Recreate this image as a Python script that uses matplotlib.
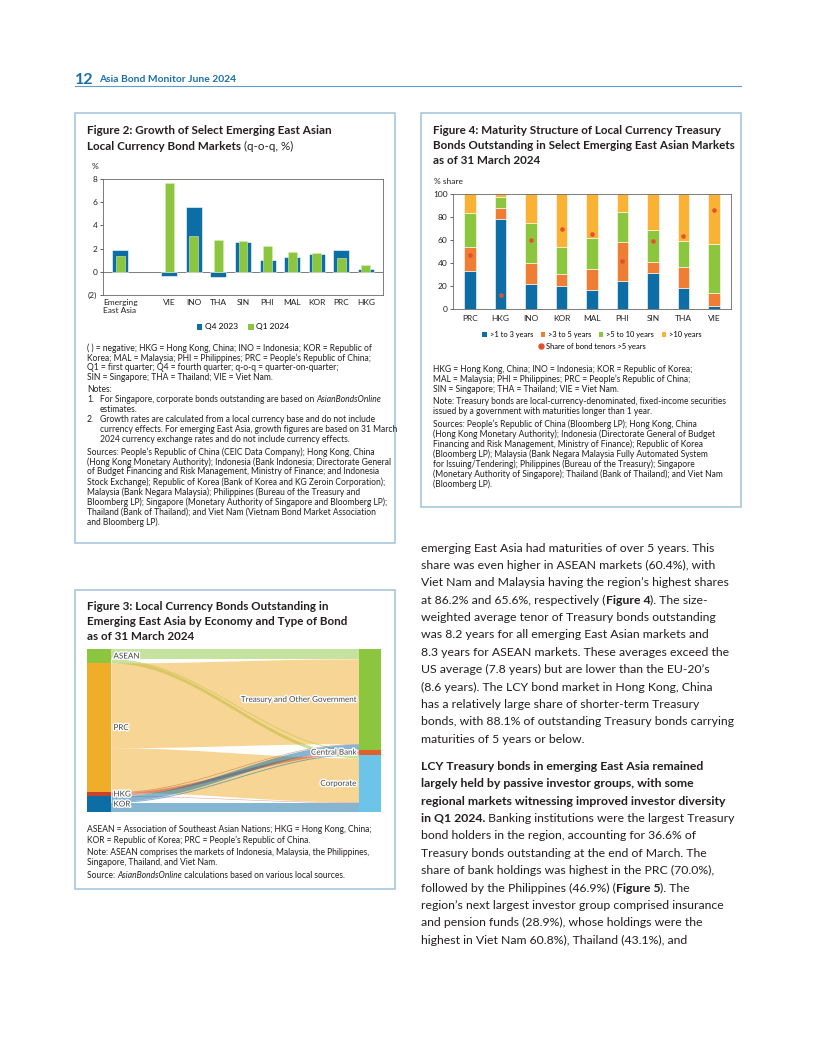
import numpy as np
import matplotlib
matplotlib.use("Agg")
import matplotlib.pyplot as plt
import matplotlib.patheffects as pe
from matplotlib.patches import Patch, Rectangle
from matplotlib.lines import Line2D

plt.rcParams["font.family"] = ["Lato", "DejaVu Sans"]

# Figure 2 data (q-o-q growth, %)
fig2_labels = ["Emerging\nEast Asia", "VIE", "INO", "THA", "SIN", "PHI", "MAL", "KOR", "PRC", "HKG"]
fig2_q4_2023 = [1.85, -0.33, 5.6, -0.42, 2.6, 1.04, 1.24, 1.55, 1.85, 0.23]
fig2_q1_2024 = [1.4, 7.65, 3.05, 2.76, 2.67, 2.22, 1.67, 1.6, 1.18, 0.58]

# Figure 4 data (% share)
fig4_labels = ["PRC", "HKG", "INO", "KOR", "MAL", "PHI", "SIN", "THA", "VIE"]
fig4_1to3 = [33.2, 78.5, 21.7, 20.3, 16.5, 24.6, 31.6, 18.6, 2.9]
fig4_3to5 = [20.3, 9.6, 18.5, 10.5, 17.9, 33.6, 9.6, 18.1, 10.9]
fig4_5to10 = [30.3, 9.0, 34.2, 23.2, 27.5, 26.4, 27.5, 22.7, 42.7]
fig4_over10 = [16.2, 2.9, 25.6, 46.0, 38.1, 15.4, 31.3, 40.6, 43.5]
fig4_share_over5 = [46.7, 11.9, 59.8, 69.2, 65.6, 41.8, 58.8, 63.3, 86.2]

# Figure 3 data (% of total LCY bonds outstanding)
fig3_sources = ["ASEAN", "PRC", "HKG", "KOR"]
fig3_targets = ["Treasury and Other Government", "Central Bank", "Corporate"]
fig3_to_treasury = [6.0, 52.0, 0.4, 3.4]
fig3_to_central_bank = [0.6, 0.0, 1.8, 0.6]
fig3_to_corporate = [2.0, 27.1, 0.3, 5.8]

INK = "#231f20"
BLUE = "#0d6ea5"
GREEN = "#8cc63f"
ORANGE = "#ef7d33"
YELLOW = "#f9b233"
DOT = "#e2522b"
BORDER = "#a8c6dc"
HEAD = "#1b6fa8"
FRAME = "#666666"

W, H = 816, 1056
fig = plt.figure(figsize=(8.16, 10.56), dpi=100)
page = fig.add_axes([0, 0, 1, 1])
page.set_xlim(0, W)
page.set_ylim(H, 0)
page.axis("off")
renderer = fig.canvas.get_renderer()


def box_axes(x0, y0, x1, y1):
    return fig.add_axes([x0 / W, 1 - y1 / H, (x1 - x0) / W, (y1 - y0) / H])


def fit_size(text, width, weight="normal"):
    t = page.text(0, 0, text, fontsize=10, fontweight=weight)
    w = t.get_window_extent(renderer).width
    t.remove()
    return 10 * width / w


def rich(x, y, parts, size, color=INK):
    prev = None
    for s, weight, style in parts:
        kw = dict(fontsize=size, fontweight=weight, fontstyle=style,
                  color=color, va="center_baseline", ha="left")
        if prev is None:
            prev = page.text(x, y, s, **kw)
        else:
            prev = page.annotate(s, xy=(1, y), xycoords=(prev, page.transData), **kw)
    return prev


def plain(s):
    return [(s, "normal", "normal")]


def block(x, y, paragraphs, size, step, gap, indent=13):
    # an entry is a list of parts, or (label, parts) for a hanging-indent line
    for para in paragraphs:
        for entry in para:
            if isinstance(entry, tuple):
                label, parts = entry
                if label:
                    rich(x, y, plain(label), size)
                rich(x + indent, y, parts, size)
            else:
                rich(x, y, entry, size)
            y += step
        y += gap


def frame(x0, y0, x1, y1):
    page.add_patch(Rectangle((x0, y0), x1 - x0, y1 - y0, fill=False,
                             edgecolor=BORDER, linewidth=1.2))


TITLE = fit_size("Figure 2: Growth of Select Emerging East Asian", 243, "bold")
NOTE = fit_size("( ) = negative; HKG = Hong Kong, China; INO = Indonesia; KOR = Republic of", 286)
BODY = fit_size("bonds, with 88.1% of outstanding Treasury bonds carrying", 314)
TICK = 6

# Page header
page.text(75, 78, "12", fontsize=11.5, fontweight="bold", color=HEAD, va="center_baseline")
page.text(99, 78, "Asia Bond Monitor June 2024", fontsize=7.4, fontweight="bold",
          color=HEAD, va="center_baseline")
page.plot([75, 741], [86, 86], color="#5d9ccc", lw=0.8)

# ---------------- Figure 2 ----------------
frame(75, 113, 395, 543)
rich(87, 130, [("Figure 2: Growth of Select Emerging East Asian", "bold", "normal")], TITLE)
rich(87, 145, [("Local Currency Bond Markets", "bold", "normal"),
               (" (q-o-q, %)", "normal", "normal")], TITLE)
page.text(92, 166, "%", fontsize=TICK, color=INK, va="center_baseline")

ax2 = box_axes(103, 179, 383, 295)
x2 = [0, 2, 3, 4, 5, 6, 7, 8, 9, 10]
ax2.axhline(0, color=FRAME, lw=0.6, zorder=1)
ax2.bar(x2, fig2_q4_2023, width=0.65, color=BLUE, edgecolor="white", linewidth=0.4, zorder=2)
ax2.bar(x2, fig2_q1_2024, width=0.36, color=GREEN, edgecolor="#d6ecb8", linewidth=0.4, zorder=3)
ax2.set_xlim(-0.7, 10.7)
ax2.set_ylim(-2, 8)
ax2.set_yticks([-2, 0, 2, 4, 6, 8])
ax2.set_yticklabels(["(2)", "0", "2", "4", "6", "8"])
ax2.set_xticks(x2)
ax2.set_xticklabels(fig2_labels)
for lab in ax2.get_xticklabels():
    lab.set_multialignment("left")
ax2.tick_params(axis="x", length=0, pad=3, labelsize=TICK, colors=INK)
ax2.tick_params(axis="y", length=2, width=0.5, pad=2, labelsize=TICK, colors=INK)
for sp in ax2.spines.values():
    sp.set_color(FRAME)
    sp.set_linewidth(0.6)
ax2.legend(handles=[Patch(facecolor=BLUE, label="Q4 2023"),
                    Patch(facecolor=GREEN, label="Q1 2024")],
           loc="center", bbox_to_anchor=(0.5, (295 - 327) / 116), ncol=2, frameon=False,
           fontsize=TICK, handlelength=0.7, handleheight=0.7, handletextpad=0.3,
           columnspacing=1.2, borderpad=0)

block(87, 347, [
    [plain("( ) = negative; HKG = Hong Kong, China; INO = Indonesia; KOR = Republic of"),
     plain("Korea; MAL = Malaysia; PHI = Philippines; PRC = People’s Republic of China;"),
     plain("Q1 = first quarter; Q4 = fourth quarter; q-o-q = quarter-on-quarter;"),
     plain("SIN = Singapore; THA = Thailand; VIE = Viet Nam.")],
    [plain("Notes:"),
     ("1.", [("For Singapore, corporate bonds outstanding are based on ", "normal", "normal"),
             ("AsianBondsOnline", "normal", "italic")]),
     ("", plain("estimates.")),
     ("2.", plain("Growth rates are calculated from a local currency base and do not include")),
     ("", plain("currency effects. For emerging East Asia, growth figures are based on 31 March")),
     ("", plain("2024 currency exchange rates and do not include currency effects."))],
    [plain("Sources: People’s Republic of China (CEIC Data Company); Hong Kong, China"),
     plain("(Hong Kong Monetary Authority); Indonesia (Bank Indonesia; Directorate General"),
     plain("of Budget Financing and Risk Management, Ministry of Finance; and Indonesia"),
     plain("Stock Exchange); Republic of Korea (Bank of Korea and KG Zeroin Corporation);"),
     plain("Malaysia (Bank Negara Malaysia); Philippines (Bureau of the Treasury and"),
     plain("Bloomberg LP); Singapore (Monetary Authority of Singapore and Bloomberg LP);"),
     plain("Thailand (Bank of Thailand); and Viet Nam (Vietnam Bond Market Association"),
     plain("and Bloomberg LP).")],
], NOTE, 10, 2)

# ---------------- Figure 3 ----------------
frame(75, 590, 395, 889)
block(87, 606, [[[("Figure 3: Local Currency Bonds Outstanding in", "bold", "normal")],
                 [("Emerging East Asia by Economy and Type of Bond", "bold", "normal")],
                 [("as of 31 March 2024", "bold", "normal")]]], TITLE, 14.5, 0)

ax3 = box_axes(87, 649, 381, 812)
flows = np.array([fig3_to_treasury, fig3_to_central_bank, fig3_to_corporate]).T
src_tot = flows.sum(axis=1)
tgt_tot = flows.sum(axis=0)
src_top = np.concatenate([[0], np.cumsum(src_tot)[:-1]])
tgt_top = np.concatenate([[0], np.cumsum(tgt_tot)[:-1]])
src_colors = [GREEN, "#f0ad2a", "#c8432a", BLUE]
tgt_colors = [GREEN, "#e0602c", "#6cc4e8"]
xl, xr = 0.082, 0.925
xs = np.linspace(xl, xr, 200)
sm = (1 - np.cos(np.pi * (xs - xl) / (xr - xl))) / 2
s_off = src_top.copy()
t_off = tgt_top.copy()
for i in range(len(fig3_sources)):
    for j in range(len(fig3_targets)):
        v = flows[i, j]
        if v <= 0:
            continue
        top = s_off[i] + (t_off[j] - s_off[i]) * sm
        ax3.fill_between(xs, top, top + v, color=src_colors[i], alpha=0.5, lw=0)
        s_off[i] += v
        t_off[j] += v
ax3.bar([0] * 4, src_tot, bottom=src_top, width=xl, align="edge", color=src_colors)
ax3.bar([xr] * 3, tgt_tot, bottom=tgt_top, width=1 - xr, align="edge", color=tgt_colors)
halo = [pe.withStroke(linewidth=2, foreground="white")]
for name, top, tot in zip(fig3_sources, src_top, src_tot):
    ax3.text(xl + 0.008, top + tot / 2, name, fontsize=5.8, color="#444444",
             va="center", ha="left", path_effects=halo)
for name, top, tot in zip(fig3_targets, tgt_top, tgt_tot):
    ax3.text(xr - 0.008, top + tot / 2, name, fontsize=5.8, color="#444444",
             va="center", ha="right", path_effects=halo)
ax3.set_xlim(0, 1)
ax3.set_ylim(flows.sum(), 0)
ax3.axis("off")

block(87, 829, [
    [plain("ASEAN = Association of Southeast Asian Nations; HKG = Hong Kong, China;"),
     plain("KOR = Republic of Korea; PRC = People’s Republic of China.")],
    [plain("Note: ASEAN comprises the markets of Indonesia, Malaysia, the Philippines,"),
     plain("Singapore, Thailand, and Viet Nam.")],
    [[("Source: ", "normal", "normal"), ("AsianBondsOnline", "normal", "italic"),
      (" calculations based on various local sources.", "normal", "normal")]],
], NOTE, 10, 2.5)

# ---------------- Figure 4 ----------------
frame(421, 113, 741, 507)
block(433, 130, [[[("Figure 4: Maturity Structure of Local Currency Treasury", "bold", "normal")],
                  [("Bonds Outstanding in Select Emerging East Asian Markets", "bold", "normal")],
                  [("as of 31 March 2024", "bold", "normal")]]], TITLE, 14.5, 0)
page.text(434, 181, "% share", fontsize=TICK, color=INK, va="center_baseline")

ax4 = box_axes(453, 194, 731, 309)
x4 = np.arange(len(fig4_labels))
bottom = np.zeros(len(fig4_labels))
seg_names = [">1 to 3 years", ">3 to 5 years", ">5 to 10 years", ">10 years"]
seg_colors = [BLUE, ORANGE, GREEN, YELLOW]
for vals, col, name in zip([fig4_1to3, fig4_3to5, fig4_5to10, fig4_over10], seg_colors, seg_names):
    ax4.bar(x4, vals, bottom=bottom, width=0.39, color=col, edgecolor="white",
            linewidth=0.4, label=name, zorder=2)
    bottom += np.array(vals)
ax4.scatter(x4, fig4_share_over5, s=11, color=DOT, zorder=4, linewidths=0)
ax4.set_xlim(-0.56, 8.56)
ax4.set_ylim(0, 100)
ax4.set_yticks(range(0, 101, 20))
ax4.set_xticks(x4)
ax4.set_xticklabels(fig4_labels)
ax4.tick_params(axis="x", length=0, pad=4, labelsize=TICK, colors=INK)
ax4.tick_params(axis="y", length=2, width=0.5, pad=2, labelsize=TICK, colors=INK)
for sp in ax4.spines.values():
    sp.set_color(FRAME)
    sp.set_linewidth(0.6)
leg1 = ax4.legend(handles=[Patch(facecolor=c, label=n) for c, n in zip(seg_colors, seg_names)],
                  loc="center", bbox_to_anchor=(0.5, (309 - 335) / 115), ncol=4, frameon=False,
                  fontsize=5.4, handlelength=0.6, handleheight=0.6, handletextpad=0.4,
                  columnspacing=1.0, borderpad=0)
ax4.add_artist(leg1)
ax4.legend(handles=[Line2D([], [], marker="o", color=DOT, linestyle="none", markersize=3.6,
                           label="Share of bond tenors >5 years")],
           loc="center", bbox_to_anchor=(0.5, (309 - 346) / 115), frameon=False,
           fontsize=5.4, handlelength=0.6, handletextpad=0.4, borderpad=0)

block(433, 368, [
    [plain("HKG = Hong Kong, China; INO = Indonesia; KOR = Republic of Korea;"),
     plain("MAL = Malaysia; PHI = Philippines; PRC = People’s Republic of China;"),
     plain("SIN = Singapore; THA = Thailand; VIE = Viet Nam.")],
    [plain("Note: Treasury bonds are local-currency-denominated, fixed-income securities"),
     plain("issued by a government with maturities longer than 1 year.")],
    [plain("Sources: People’s Republic of China (Bloomberg LP); Hong Kong, China"),
     plain("(Hong Kong Monetary Authority); Indonesia (Directorate General of Budget"),
     plain("Financing and Risk Management, Ministry of Finance); Republic of Korea"),
     plain("(Bloomberg LP); Malaysia (Bank Negara Malaysia Fully Automated System"),
     plain("for Issuing/Tendering); Philippines (Bureau of the Treasury); Singapore"),
     plain("(Monetary Authority of Singapore); Thailand (Bank of Thailand); and Viet Nam"),
     plain("(Bloomberg LP).")],
], NOTE, 10, 2.5)

# ---------------- Body text ----------------
B = "bold"
N = "normal"
block(421, 547, [
    [plain("emerging East Asia had maturities of over 5 years. This"),
     plain("share was even higher in ASEAN markets (60.4%), with"),
     plain("Viet Nam and Malaysia having the region’s highest shares"),
     [("at 86.2% and 65.6%, respectively (", N, N), ("Figure 4", B, N), ("). The size-", N, N)],
     plain("weighted average tenor of Treasury bonds outstanding"),
     plain("was 8.2 years for all emerging East Asian markets and"),
     plain("8.3 years for ASEAN markets. These averages exceed the"),
     plain("US average (7.8 years) but are lower than the EU-20’s"),
     plain("(8.6 years). The LCY bond market in Hong Kong, China"),
     plain("has a relatively large share of shorter-term Treasury"),
     plain("bonds, with 88.1% of outstanding Treasury bonds carrying"),
     plain("maturities of 5 years or below.")],
    [[("LCY Treasury bonds in emerging East Asia remained", B, N)],
     [("largely held by passive investor groups, with some", B, N)],
     [("regional markets witnessing improved investor diversity", B, N)],
     [("in Q1 2024.", B, N), (" Banking institutions were the largest Treasury", N, N)],
     plain("bond holders in the region, accounting for 36.6% of"),
     plain("Treasury bonds outstanding at the end of March. The"),
     plain("share of bank holdings was highest in the PRC (70.0%),"),
     [("followed by the Philippines (46.9%) (", N, N), ("Figure 5", B, N), ("). The", N, N)],
     plain("region’s next largest investor group comprised insurance"),
     plain("and pension funds (28.9%), whose holdings were the"),
     plain("highest in Viet Nam 60.8%), Thailand (43.1%), and")],
], BODY, 17.4, 9.5)

fig.savefig("out.png", dpi=100)
